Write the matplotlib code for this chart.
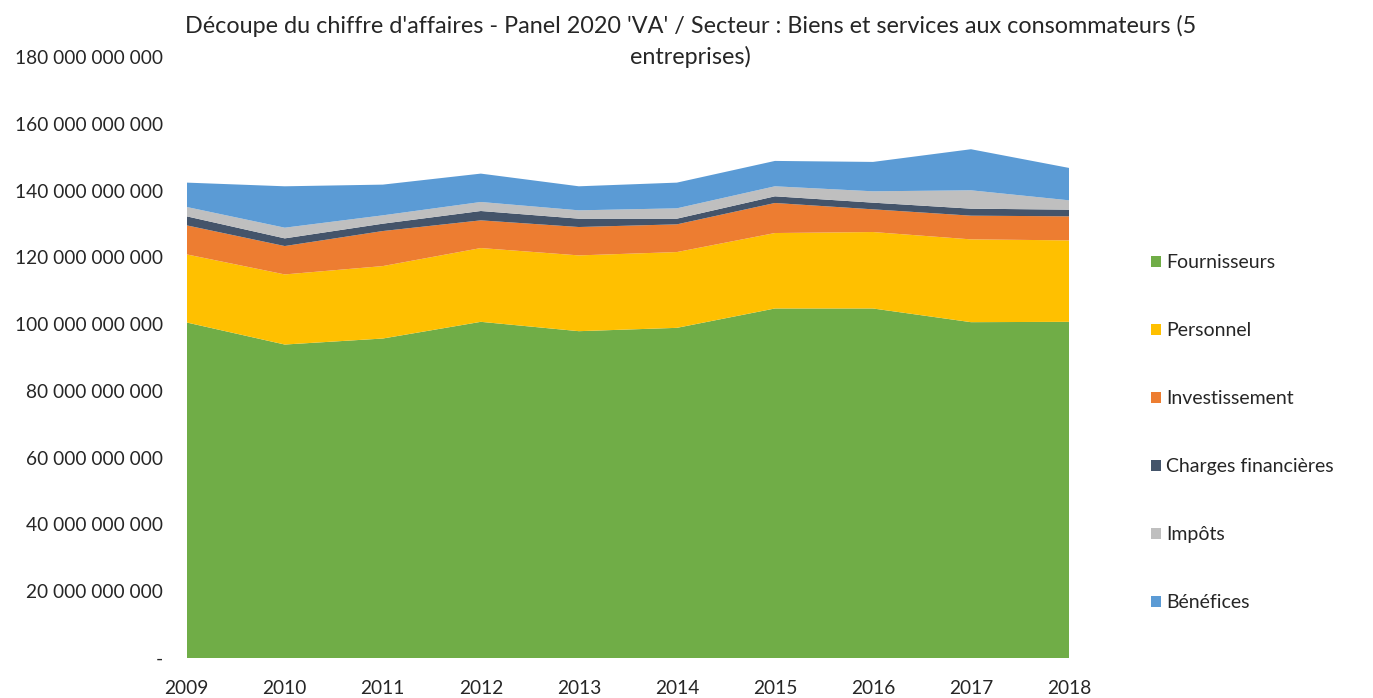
import matplotlib.pyplot as plt
from matplotlib.patches import Patch
from matplotlib.ticker import FuncFormatter, MultipleLocator

plt.rcParams.update({
    "font.family": ["Lato", "DejaVu Sans"],
    "font.size": 13.8,
})

# data (milliards d'euros)
years = [2009, 2010, 2011, 2012, 2013, 2014, 2015, 2016, 2017, 2018]
fournisseurs = [100.5, 93.9, 95.7, 100.7, 97.9, 98.9, 104.7, 104.7, 100.6, 100.7]
personnel = [20.4, 21.0, 21.7, 22.1, 22.7, 22.7, 22.6, 22.9, 24.8, 24.4]
investissement = [8.7, 8.5, 10.5, 8.3, 8.5, 8.3, 9.0, 6.8, 7.1, 7.2]
charges_fin = [2.7, 2.3, 2.2, 2.8, 2.5, 1.7, 2.0, 2.0, 2.1, 2.0]
impots = [2.8, 3.2, 2.5, 2.7, 2.5, 3.1, 3.0, 3.4, 5.5, 2.8]
benefices = [7.3, 12.4, 9.2, 8.5, 7.2, 7.7, 7.6, 8.8, 12.3, 9.7]

labels = ["Fournisseurs", "Personnel", "Investissement",
          "Charges financières", "Impôts", "Bénéfices"]
colors = ["#70AD47", "#FFC000", "#ED7D31", "#44546A", "#BFBFBF", "#5B9BD5"]

series = [fournisseurs, personnel, investissement, charges_fin, impots, benefices]
series = [[v * 1e9 for v in s] for s in series]

fig = plt.figure(figsize=(13.73, 6.98), dpi=100)
ax = fig.add_axes([0.136, 0.0573, 0.6426, 0.8609])

ax.stackplot(years, *series, colors=colors, labels=labels, linewidth=0)

ax.set_xlim(2009, 2018)
ax.set_ylim(0, 180e9)
ax.yaxis.set_major_locator(MultipleLocator(20e9))


def fmt(v, pos):
    if v == 0:
        return "-"
    return f"{int(round(v)):,}".replace(",", " ")


ax.yaxis.set_major_formatter(FuncFormatter(fmt))
ax.set_xticks(years)
ax.tick_params(axis="y", length=0, pad=17, colors="#262626")
ax.tick_params(axis="x", length=0, pad=15.5, colors="#262626")
for s in ax.spines.values():
    s.set_visible(False)

fig.text(0.503, 0.9405,
         "Découpe du chiffre d'affaires - Panel 2020 'VA' / Secteur : Biens et services aux consommateurs (5\nentreprises)",
         ha="center", va="center", fontsize=16.8, color="#262626", linespacing=1.52)

handles = [Patch(facecolor=c, edgecolor="none") for c in colors]
fig.legend(handles, labels, loc="upper left", bbox_to_anchor=(0.8255, 0.6605),
           frameon=False, handlelength=0.5, handleheight=0.5,
           handletextpad=0.3, labelspacing=2.62, fontsize=14,
           labelcolor="#262626")

fig.savefig("out.png", dpi=100)
